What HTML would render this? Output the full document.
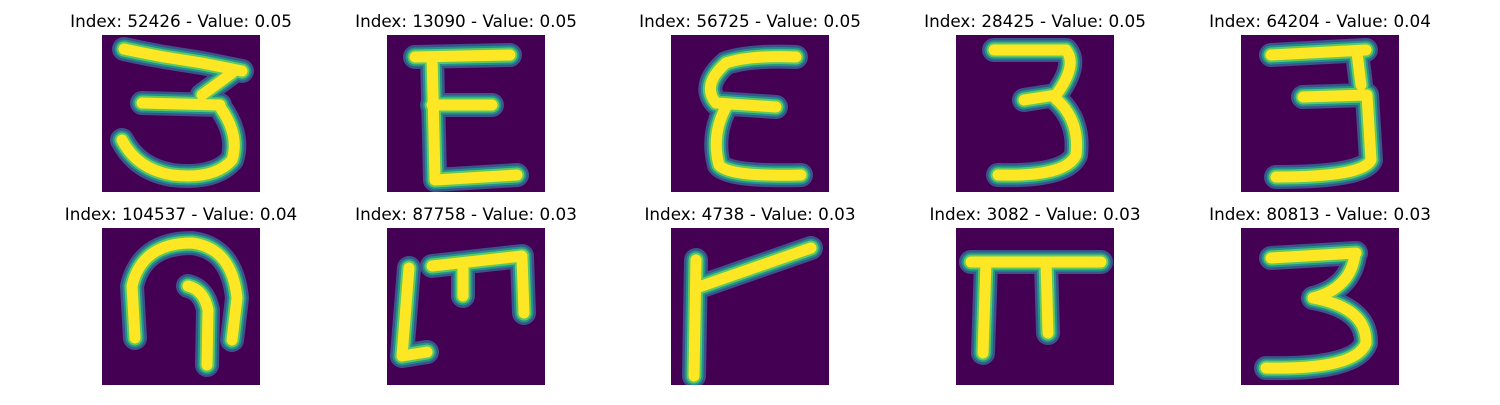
<!DOCTYPE html>
<html><head><meta charset="utf-8"><style>
body{margin:0;background:#fff;width:1500px;height:400px;overflow:hidden}
svg text{font-family:"DejaVu Sans","Liberation Sans",sans-serif;font-size:16.8px;fill:#000}
</style></head><body>
<svg id="fig" width="1500" height="400" xmlns="http://www.w3.org/2000/svg">
</svg>
<script>
const indices=[52426,13090,56725,28425,64204,104537,87758,4738,3082,80813];
const values=[0.05,0.05,0.05,0.05,0.04,0.04,0.03,0.03,0.03,0.03];
const colX=[102,387,671,956,1241];
const rowY=[35,228];
const strokes=[
"M22,14 Q40,18 62,22 L100,28 L140,36 M130,38 L100,60 M40,68 L118,70 M118,72 Q138,100 130,125 Q112,145 70,140 Q35,134 20,105",
"M28,22 L123,20 M45,22 L47,100 L48,145 M45,70 L105,70 M48,145 L130,140",
"M125,22 Q80,20 55,28 Q30,50 45,68 L105,72 M55,72 Q40,100 48,130 Q58,142 130,140",
"M38,15 L110,15 Q122,30 100,60 L68,65 M100,64 Q124,85 120,120 Q110,142 42,140",
"M30,20 L125,15 M116,18 L120,50 M62,62 L125,60 M126,60 L130,125 Q122,142 35,142",
"M33,110 L30,58 Q40,15 90,15 Q130,20 135,70 L130,112 M86,58 Q102,62 106,82 L105,137",
"M22,40 L15,128 L40,124 M45,38 L135,28 M135,30 L137,85 M76,40 L76,68",
"M25,32 L23,148 M25,60 L140,20",
"M15,34 L145,34 M30,34 L27,125 M90,34 L92,105",
"M30,30 L115,25 M114,26 Q110,60 72,70 M72,70 Q126,80 125,115 Q115,142 25,140"
];
const fig=document.getElementById('fig');
const NS='http://www.w3.org/2000/svg';
for(let i=0;i<10;i++){
  const x=colX[i%5], y=rowY[Math.floor(i/5)];
  const g=document.createElementNS(NS,'g');
  
  
  g.setAttribute('transform','translate('+x+','+y+')');
  const r=document.createElementNS(NS,'rect');
  
  
  r.setAttribute('width',158);r.setAttribute('height',157);r.setAttribute('fill','#440154');
  g.appendChild(r);
  const cp=document.createElementNS(NS,'clipPath');cp.id='c'+i;
  const cr=document.createElementNS(NS,'rect');cr.setAttribute('width',158);cr.setAttribute('height',157);
  cp.appendChild(cr);g.appendChild(cp);
  const gg=document.createElementNS(NS,'g');gg.setAttribute('clip-path','url(#c'+i+')');
  [['#3b528b',24],['#21918c',19],['#5ec962',15],['#fde725',11]].forEach(([c,w])=>{
    const p=document.createElementNS(NS,'path');
    
    
    p.setAttribute('d',strokes[i]);p.setAttribute('fill','none');
    p.setAttribute('stroke',c);p.setAttribute('stroke-width',w);
    p.setAttribute('stroke-linecap','round');p.setAttribute('stroke-linejoin','round');
    gg.appendChild(p);
  });
  g.appendChild(gg);
  const t=document.createElementNS(NS,'text');
  
  
  t.setAttribute('x',79);t.setAttribute('y',-8);t.setAttribute('text-anchor','middle');
  t.textContent='Index: '+indices[i]+' - Value: '+values[i].toFixed(2);
  g.appendChild(t);
  fig.appendChild(g);
}
</script>
</body></html>
